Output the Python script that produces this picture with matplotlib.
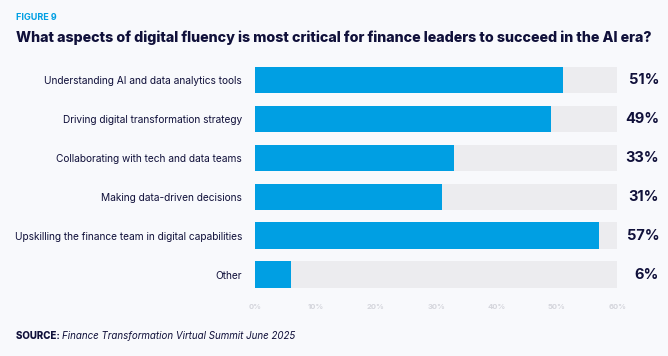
import matplotlib.pyplot as plt
import numpy as np

# chart data
categories = [
    "Understanding AI and data analytics tools",
    "Driving digital transformation strategy",
    "Collaborating with tech and data teams",
    "Making data-driven decisions",
    "Upskilling the finance team in digital capabilities",
    "Other",
]
values = [51, 49, 33, 31, 57, 6]
xticks = [0, 10, 20, 30, 40, 50, 60]
xtick_labels = ["0%", "10%", "20%", "30%", "40%", "50%", "60%"]

navy = "#10103a"
blue = "#009fe3"
track = "#ececef"
bg = "#f8f9fc"

plt.rcParams['font.family'] = ['Inter', 'DejaVu Sans']

fig = plt.figure(figsize=(6.68, 3.56), dpi=100, facecolor=bg)
ax = fig.add_axes([0.382, 0.173, 0.542, 0.657])
ax.set_facecolor(bg)

y = np.arange(len(categories))
ax.barh(y, [60] * len(values), height=0.69, color=track)
ax.barh(y, values, height=0.69, color=blue)
ax.set_xlim(0, 60)
ax.set_ylim(len(categories) - 0.5, -0.5)

ax.set_yticks(y)
ax.set_yticklabels(categories, fontsize=7.3, color=navy)
ax.tick_params(axis='y', length=0, pad=9.5)
ax.set_xticks(xticks)
ax.set_xticklabels(xtick_labels, fontsize=5.5, color="#d4d5dc", fontweight='bold')
ax.tick_params(axis='x', length=0, pad=7)
for s in ax.spines.values():
    s.set_visible(False)

for yi, v in zip(y, values):
    ax.text(1.0 + 42 / 668 / 0.542, yi, f"{v}%", transform=ax.get_yaxis_transform(),
            ha='right', va='center', fontsize=10.5, fontweight='bold', color=navy)

fig.text(16 / 668, 1 - 17 / 356, "FIGURE 9", fontsize=6.5, fontweight='bold',
         color=blue, va='center')
fig.text(16 / 668, 1 - 38 / 356,
         "What aspects of digital fluency is most critical for finance leaders to succeed in the AI era?",
         fontsize=10.25, fontweight='heavy', color=navy, va='center')

src = fig.text(16 / 668, 1 - 336 / 356, "SOURCE: ", fontsize=7, fontweight='heavy',
               color=navy, va='center')
renderer = fig.canvas.get_renderer()
bb = src.get_window_extent(renderer)
fig.text(bb.x1 / fig.bbox.width, 1 - 336 / 356,
         "Finance Transformation Virtual Summit June 2025",
         fontsize=7, style='italic', color=navy, va='center')

fig.savefig("out.png", dpi=100, facecolor=bg)
